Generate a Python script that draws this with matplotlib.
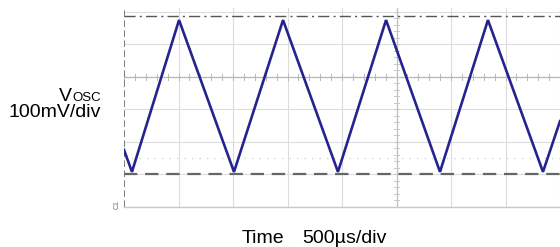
import matplotlib
matplotlib.use("Agg")
import matplotlib.pyplot as plt
import numpy as np

# Data (time in µs, voltage in mV)
time_us = [0, 73, 505, 1009, 1459, 1963, 2404, 2899, 3339, 3844, 4000]
v_mV = [-224, -292, 175, -292, 175, -292, 175, -292, 175, -292, -136]
cursor_top_mV = 186
cursor_bot_mV = -298
x_grid = [0, 500, 1000, 1500, 2000, 2500, 3000, 3500, 4000]
y_grid = [-400, -300, -200, -100, 0, 100, 200]

plt.rcParams['font.family'] = ['Liberation Sans', 'DejaVu Sans']

fig = plt.figure(figsize=(5.6, 2.47), dpi=100)
ax = fig.add_axes([124/560, 1 - 207/247, 1 - 124/560, (207 - 8)/247])
ax.set_xlim(0, 4000)
ax.set_ylim(-400, 212)
ax.set_facecolor('white')

for x in x_grid[1:]:
    ax.axvline(x, color='#dcdcdc', lw=0.8, zorder=1)
for y in y_grid:
    ax.axhline(y, color='#dcdcdc', lw=0.8, zorder=1)

# center lines with minor ticks
ax.axhline(0, color='#b8b8b8', lw=0.9, zorder=1.5)
ax.axvline(2500, color='#c0c0c0', lw=0.9, zorder=1.5)
for xt in np.arange(0, 4001, 100):
    ax.plot([xt, xt], [-8, 8], color='#b8b8b8', lw=0.7, zorder=1.5)
for yt in np.arange(-400, 212, 20):
    ax.plot([2500 - 25, 2500 + 25], [yt, yt], color='#c8c8c8', lw=0.7, zorder=1.5)

# faint dotted row
ax.axhline(-249, color='#cfcfcf', lw=0.9, ls=(0, (1, 5)), zorder=1.2)

# cursors
ax.axhline(cursor_top_mV, color='#555555', lw=1.0, ls=(0, (8, 3, 1.5, 3)), zorder=2)
ax.axhline(cursor_bot_mV, color='#666666', lw=1.6, ls=(0, (6, 3.5)), zorder=2)

# left dashed border
ax.axvline(0, color='#666666', lw=1.2, ls=(0, (4, 2)), zorder=2)

# waveform
ax.plot(time_us, v_mV, color='#24248f', lw=1.9, zorder=3, solid_joinstyle='miter')

for s in ['top', 'right', 'left']:
    ax.spines[s].set_visible(False)
ax.spines['bottom'].set_color('#c8c8c8')
ax.spines['bottom'].set_linewidth(1.0)
ax.set_xticks([])
ax.set_yticks([])

# labels
fig.text(101/560, 1 - 101/247, 'OSC', ha='right', va='baseline', fontsize=9.5)
fig.text(72/560, 1 - 101/247, 'V', ha='right', va='baseline', fontsize=14)
fig.text(101/560, 1 - 117/247, '100mV/div', ha='right', va='baseline', fontsize=14)
fig.text(242/560, 1 - 243/247, 'Time', ha='left', va='baseline', fontsize=14)
fig.text(302/560, 1 - 243/247, '500µs/div', ha='left', va='baseline', fontsize=14)
fig.text(117/560, 1 - 205/247, 'C1', ha='center', va='center', fontsize=5, color='#5a6aa0', rotation=90)

fig.savefig('out.png', dpi=100)
